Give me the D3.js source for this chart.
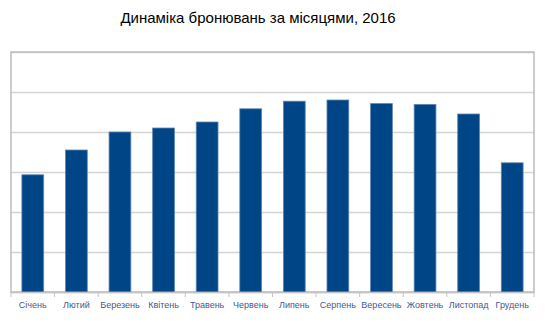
<!DOCTYPE html>
<html>
<head>
<meta charset="utf-8">
<script src="https://cdn.jsdelivr.net/npm/d3@7"></script>
<style>
  body { margin: 0; background: #fff; }
  svg { display: block; font-family: "Liberation Sans", Arial, sans-serif; }
  .grid line { stroke: #d4d4d4; stroke-width: 1.5; }
  .grid .domain { display: none; }
  .x-axis .domain, .x-axis line { stroke: #c4c4c4; }
  .x-axis text { fill: #3f5a8f; font-size: 9px; }
</style>
</head>
<body>
<svg id="chart"></svg>
<script>
// data (gridline units)
const months = ['Січень', 'Лютий', 'Березень', 'Квітень', 'Травень', 'Червень',
  'Липень', 'Серпень', 'Вересень', 'Жовтень', 'Листопад', 'Грудень'];
const bookings = [2.93, 3.55, 4.0, 4.1, 4.25, 4.58, 4.77, 4.8, 4.71, 4.69, 4.45, 3.23];
const gridTicks = [0, 1, 2, 3, 4, 5, 6];

const config = {
  width: 545,
  height: 327,
  margin: {top: 52, right: 11, bottom: 35, left: 11}
};

const width = config.width - config.margin.left - config.margin.right;
const height = config.height - config.margin.top - config.margin.bottom;

const svg = d3.select('#chart')
    .attr('width', config.width)
    .attr('height', config.height);

svg.append('text')
    .attr('x', 258)
    .attr('y', 23)
    .attr('text-anchor', 'middle')
    .style('font-size', '15px')
    .attr('fill', '#000')
    .text('Динаміка бронювань за місяцями, 2016');

const chart = svg.append('g')
    .attr('transform', `translate(${config.margin.left},${config.margin.top})`);

const xScale = d3.scaleBand()
    .domain(months)
    .range([0, width])
    .paddingInner(0.5)
    .paddingOuter(0.25);

const yScale = d3.scaleLinear()
    .domain([0, 6])
    .range([height, 0]);

// gridlines
chart.append('g')
    .attr('class', 'grid')
    .call(d3.axisLeft(yScale).tickValues(gridTicks).tickSize(-width).tickFormat(''));

// plot border
chart.append('rect')
    .attr('width', width)
    .attr('height', height)
    .attr('fill', 'none')
    .attr('stroke', '#bdbdbd')
    .attr('stroke-width', 1.5);

// bars
chart.selectAll('.bar')
    .data(bookings)
  .join('rect')
    .attr('class', 'bar')
    .attr('x', (d, i) => xScale(months[i]))
    .attr('y', d => yScale(d))
    .attr('width', xScale.bandwidth())
    .attr('height', d => height - yScale(d))
    .attr('fill', '#004586')
    .attr('stroke', '#5f86b3')
    .attr('stroke-width', 0.8);

// x axis with ticks at band boundaries
const xAxisG = chart.append('g')
    .attr('class', 'x-axis')
    .attr('transform', `translate(0,${height})`)
    .call(d3.axisBottom(xScale).tickSize(0).tickPadding(10));

xAxisG.select('.domain').attr('stroke-width', 1.5);

const step = xScale.step();
xAxisG.selectAll('.sep')
    .data(d3.range(months.length + 1))
  .join('line')
    .attr('class', 'sep')
    .attr('x1', i => Math.min(i * step, width))
    .attr('x2', i => Math.min(i * step, width))
    .attr('y1', 0)
    .attr('y2', 5)
    .attr('stroke', '#c4c4c4');
</script>
</body>
</html>
